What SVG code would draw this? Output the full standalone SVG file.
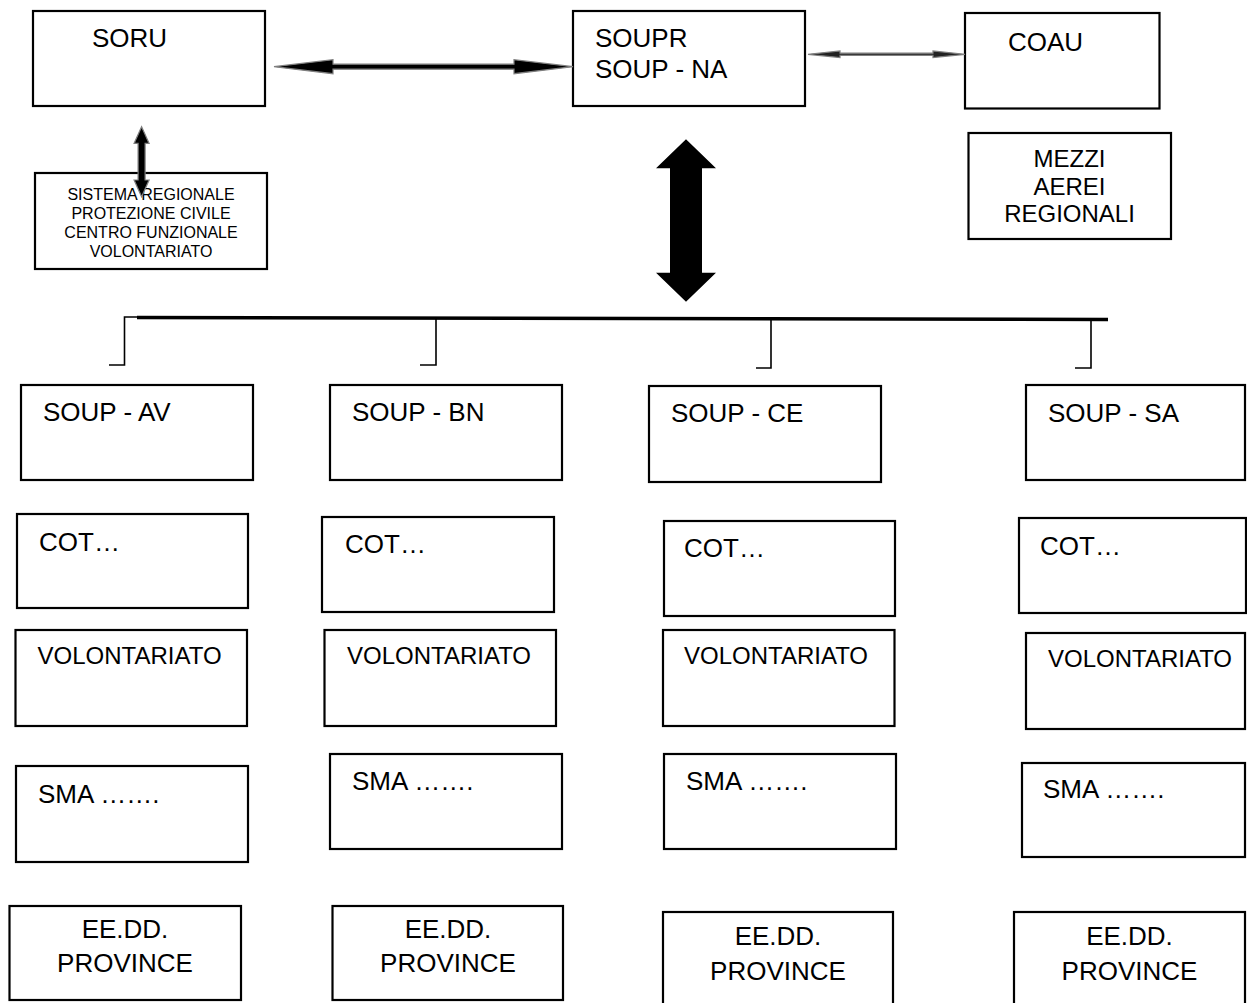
<svg xmlns="http://www.w3.org/2000/svg" width="1247" height="1003" viewBox="0 0 1247 1003">
<style>
.box{fill:#fff;stroke:#000;stroke-width:2.2}
.t{font-family:"Liberation Sans",Arial,sans-serif;font-size:26px;fill:#000}
.t24{font-family:"Liberation Sans",Arial,sans-serif;font-size:24px;fill:#000}
.t16{font-family:"Liberation Sans",Arial,sans-serif;font-size:16px;fill:#000}
.c{text-anchor:middle}
.arr{fill:#000;stroke:#7f7f7f;stroke-width:1.2;stroke-linejoin:miter}
.drop{fill:none;stroke:#000;stroke-width:1.6}
</style>
<rect width="1247" height="1003" fill="#fff"/>

<g id="soru"><rect class="box" x="33" y="11" width="232" height="95"/><text class="t" x="92" y="46.7">SORU</text></g>
<g id="soupr"><rect class="box" x="573" y="11" width="232" height="95"/><text class="t" x="595" y="46.7">SOUPR</text><text class="t" x="595" y="78.3">SOUP - NA</text></g>
<g id="coau"><rect class="box" x="965" y="13" width="194.5" height="95.5"/><text class="t" x="1008" y="50.7">COAU</text></g>
<g id="mezzi"><rect class="box" x="968.5" y="133" width="202.5" height="106"/><text class="t24 c" x="1069.5" y="166.7">MEZZI</text><text class="t24 c" x="1069.5" y="194.5">AEREI</text><text class="t24 c" x="1069.5" y="222">REGIONALI</text></g>
<g id="sistema"><rect class="box" x="35" y="173" width="232" height="96"/><text class="t16 c" x="151" y="199.5">SISTEMA REGIONALE</text><text class="t16 c" x="151" y="218.5">PROTEZIONE CIVILE</text><text class="t16 c" x="151" y="237.5">CENTRO FUNZIONALE</text><text class="t16 c" x="151" y="256.5">VOLONTARIATO</text></g>

<g id="soup-av"><rect class="box" x="21" y="385" width="232" height="95"/><text class="t" x="43" y="420.7">SOUP - AV</text></g>
<g id="soup-bn"><rect class="box" x="330" y="385" width="232" height="95"/><text class="t" x="352" y="420.7">SOUP - BN</text></g>
<g id="soup-ce"><rect class="box" x="649" y="386" width="232" height="96"/><text class="t" x="671" y="421.7">SOUP - CE</text></g>
<g id="soup-sa"><rect class="box" x="1026" y="385" width="219" height="95"/><text class="t" x="1048" y="421.7">SOUP - SA</text></g>

<g id="cot-av"><rect class="box" x="17" y="514" width="231" height="94"/><text class="t" x="39" y="550.7">COT…</text></g>
<g id="cot-bn"><rect class="box" x="322" y="517" width="232" height="95"/><text class="t" x="345" y="552.7">COT…</text></g>
<g id="cot-ce"><rect class="box" x="664" y="521" width="231" height="95"/><text class="t" x="684" y="557.3">COT…</text></g>
<g id="cot-sa"><rect class="box" x="1019" y="518" width="227" height="95"/><text class="t" x="1040" y="555">COT…</text></g>

<g id="vol-av"><rect class="box" x="15.5" y="630" width="231.5" height="96"/><text class="t24" x="37.6" y="664">VOLONTARIATO</text></g>
<g id="vol-bn"><rect class="box" x="324.5" y="630" width="231.5" height="96"/><text class="t24" x="347" y="664">VOLONTARIATO</text></g>
<g id="vol-ce"><rect class="box" x="663" y="630" width="231.5" height="96"/><text class="t24" x="684" y="664">VOLONTARIATO</text></g>
<g id="vol-sa"><rect class="box" x="1026" y="633" width="219" height="96"/><text class="t24" x="1048" y="666.7">VOLONTARIATO</text></g>

<g id="sma-av"><rect class="box" x="16" y="766" width="232" height="96"/><text class="t" x="38" y="802.7">SMA …….</text></g>
<g id="sma-bn"><rect class="box" x="330" y="754" width="232" height="95"/><text class="t" x="352" y="790">SMA …….</text></g>
<g id="sma-ce"><rect class="box" x="664" y="754" width="232" height="95"/><text class="t" x="686" y="790">SMA …….</text></g>
<g id="sma-sa"><rect class="box" x="1022" y="763" width="223" height="94"/><text class="t" x="1043" y="798.3">SMA …….</text></g>

<g id="ee-av"><rect class="box" x="9.5" y="906" width="231.5" height="94"/><text class="t c" x="125" y="938">EE.DD.</text><text class="t c" x="125" y="972">PROVINCE</text></g>
<g id="ee-bn"><rect class="box" x="332.5" y="906" width="230.5" height="94"/><text class="t c" x="448" y="938">EE.DD.</text><text class="t c" x="448" y="972">PROVINCE</text></g>
<g id="ee-ce"><rect class="box" x="663" y="912" width="230" height="96"/><text class="t c" x="778" y="945">EE.DD.</text><text class="t c" x="778" y="980">PROVINCE</text></g>
<g id="ee-sa"><rect class="box" x="1014" y="912" width="231" height="96"/><text class="t c" x="1129.5" y="945">EE.DD.</text><text class="t c" x="1129.5" y="980">PROVINCE</text></g>

<g id="connectors">
<polygon class="arr" points="274,66.7 333,59.7 333,64.2 514,64.2 514,59.7 573,66.7 514,73.7 514,69.2 333,69.2 333,73.7"/>
<polygon class="arr" style="fill:#222" points="808,54.3 840,51 840,53.2 933,53.2 933,51 965,54.3 933,57.6 933,55.4 840,55.4 840,57.6"/>
<polygon class="arr" points="141.6,126.7 149.1,143.4 145.1,143.4 145.1,180 149.1,180 141.6,196.7 134.1,180 138.1,180 138.1,143.4 134.1,143.4"/>
<polygon fill="#000" points="686,139.3 716,168.3 702,168.3 702,272.7 716,272.7 686,301.7 656,272.7 670,272.7 670,168.3 656,168.3"/>
<line x1="137" y1="317.5" x2="1108" y2="319.5" stroke="#000" stroke-width="3.5"/>
<polyline class="drop" points="137,317 124.5,317 124.5,365 109,365"/>
<polyline class="drop" points="436,318 436,365 420,365"/>
<polyline class="drop" points="771,319 771,368 756,368"/>
<polyline class="drop" points="1091,319.5 1091,368 1075,368"/>
</g>
</svg>
